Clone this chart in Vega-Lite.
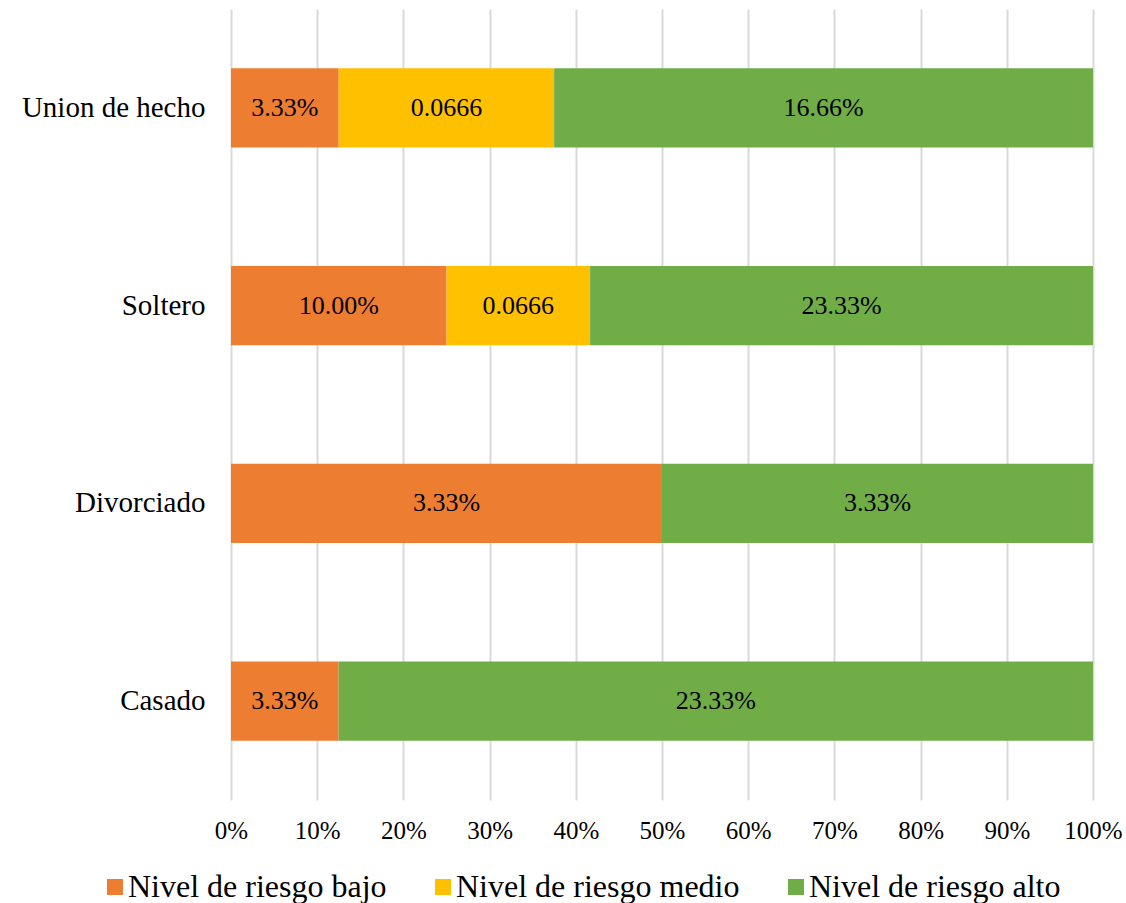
{
  "$schema": "https://vega.github.io/schema/vega-lite/v6.json",
  "width": 862,
  "height": 791,
  "autosize": "none",
  "padding": {"left": 231, "top": 9, "right": 33, "bottom": 103},
  "background": "white",
  "config": {
    "font": "Liberation Serif",
    "view": {"stroke": null}
  },
  "data": {
    "values": [
      {"estado": "Union de hecho", "nivel": "Nivel de riesgo bajo", "orden": 1, "valor": 0.0333, "etiqueta": "3.33%"},
      {"estado": "Union de hecho", "nivel": "Nivel de riesgo medio", "orden": 2, "valor": 0.0666, "etiqueta": "0.0666"},
      {"estado": "Union de hecho", "nivel": "Nivel de riesgo alto", "orden": 3, "valor": 0.1666, "etiqueta": "16.66%"},
      {"estado": "Soltero", "nivel": "Nivel de riesgo bajo", "orden": 1, "valor": 0.1, "etiqueta": "10.00%"},
      {"estado": "Soltero", "nivel": "Nivel de riesgo medio", "orden": 2, "valor": 0.0666, "etiqueta": "0.0666"},
      {"estado": "Soltero", "nivel": "Nivel de riesgo alto", "orden": 3, "valor": 0.2333, "etiqueta": "23.33%"},
      {"estado": "Divorciado", "nivel": "Nivel de riesgo bajo", "orden": 1, "valor": 0.0333, "etiqueta": "3.33%"},
      {"estado": "Divorciado", "nivel": "Nivel de riesgo alto", "orden": 3, "valor": 0.0333, "etiqueta": "3.33%"},
      {"estado": "Casado", "nivel": "Nivel de riesgo bajo", "orden": 1, "valor": 0.0333, "etiqueta": "3.33%"},
      {"estado": "Casado", "nivel": "Nivel de riesgo alto", "orden": 3, "valor": 0.2333, "etiqueta": "23.33%"}
    ]
  },
  "transform": [
    {
      "stack": "valor",
      "groupby": ["estado"],
      "offset": "normalize",
      "sort": [{"field": "orden", "order": "ascending"}],
      "as": ["x0", "x1"]
    },
    {"calculate": "(datum.x0 + datum.x1) / 2", "as": "xmedio"}
  ],
  "encoding": {
    "y": {
      "field": "estado",
      "type": "nominal",
      "sort": ["Union de hecho", "Soltero", "Divorciado", "Casado"],
      "scale": {"paddingInner": 0.6, "paddingOuter": 0.3},
      "axis": {
        "title": null,
        "domain": false,
        "ticks": false,
        "labelFontSize": 29,
        "labelColor": "#000000",
        "labelPadding": 26,
        "labelLimit": 0,
        "labelFont": "Liberation Serif"
      }
    }
  },
  "layer": [
    {
      "mark": {"type": "bar"},
      "encoding": {
        "x": {
          "field": "x0",
          "type": "quantitative",
          "scale": {"domain": [0, 1], "nice": false},
          "axis": {
            "title": null,
            "format": ".0%",
            "values": [0, 0.1, 0.2, 0.3, 0.4, 0.5, 0.6, 0.7, 0.8, 0.9, 1],
            "domain": false,
            "ticks": false,
            "grid": true,
            "gridColor": "#d9d9d9",
            "gridWidth": 2,
            "labelFontSize": 25,
            "labelColor": "#000000",
            "labelPadding": 18,
            "labelFont": "Liberation Serif",
            "labelFlush": false
          }
        },
        "x2": {"field": "x1"},
        "color": {
          "field": "nivel",
          "type": "nominal",
          "sort": ["Nivel de riesgo bajo", "Nivel de riesgo medio", "Nivel de riesgo alto"],
          "scale": {
            "domain": ["Nivel de riesgo bajo", "Nivel de riesgo medio", "Nivel de riesgo alto"],
            "range": ["#ED7D31", "#FFC000", "#70AD47"]
          },
          "legend": {
            "title": null,
            "orient": "none",
            "direction": "horizontal",
            "legendX": -132,
            "legendY": 862,
            "padding": 0,
            "symbolType": "square",
            "symbolSize": 256,
            "symbolStrokeWidth": 0,
            "symbolOpacity": 1,
            "labelFontSize": 32,
            "labelFont": "Liberation Serif",
            "labelColor": "#000000",
            "labelOffset": -3,
            "columnPadding": 40,
            "labelLimit": 0
          }
        }
      }
    },
    {
      "mark": {
        "type": "text",
        "fontSize": 26,
        "font": "Liberation Serif",
        "color": "#000000",
        "align": "center",
        "baseline": "middle"
      },
      "encoding": {
        "x": {"field": "xmedio", "type": "quantitative"},
        "text": {"field": "etiqueta", "type": "nominal"}
      }
    }
  ]
}
